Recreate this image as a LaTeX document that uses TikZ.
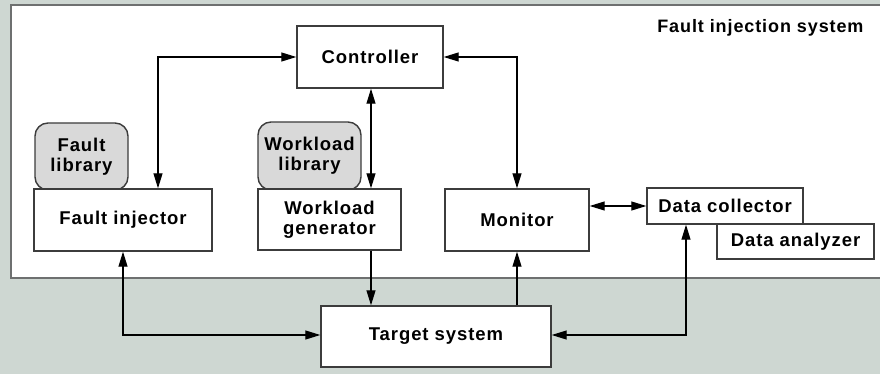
\documentclass[tikz,border=0pt]{standalone}
\usepackage{fontspec}
\setmainfont{Liberation Sans}[LetterSpace=5]
\usetikzlibrary{arrows.meta,calc}
\definecolor{bgc}{RGB}{206,215,210}
\definecolor{framec}{RGB}{110,112,112}
\definecolor{boxc}{RGB}{60,60,60}
\definecolor{libc}{RGB}{217,217,217}
\tikzset{
  tip/.style={-{Triangle[length=15pt,width=9pt]}},
  bitip/.style={{Triangle[length=15pt,width=9pt]}-{Triangle[length=15pt,width=9pt]}},
  conn/.style={line width=1.1pt, black},
  box/.style={draw=boxc, line width=1.4pt, fill=white, inner sep=0pt, align=center,
    font=\fontsize{18.5}{20}\selectfont\bfseries},
  libbox/.style={box, fill=libc, rounded corners=13pt},
}
\begin{document}
\begin{tikzpicture}[x=1pt,y=-1pt]
\useasboundingbox (0,0) rectangle (880,374);
\fill[bgc] (0,0) rectangle (880,374);
\filldraw[fill=white, draw=framec, line width=2pt] (11,5) rectangle (892,278);
\node[anchor=base east, font=\fontsize{18}{20}\selectfont\bfseries] (title) at (867,33) {Fault injection system};

\node[box, minimum width=146pt, minimum height=62pt] (ctrl) at (370,57) {Controller};
\node[libbox, minimum width=93pt, minimum height=67pt] (flib) at (81.5,156.5) {Fault\\library};
\node[libbox, minimum width=103pt, minimum height=68pt] (wlib) at (309.5,156) {Workload\\library};
\node[box, minimum width=178pt, minimum height=62pt] (finj) at (123,220) {Fault injector};
\node[box, minimum width=143pt, minimum height=61pt] (wgen) at (329.5,219.5) {Workload\\generator};
\node[box, minimum width=144pt, minimum height=62pt] (mon) at (517,220) {Monitor};
\node[box, minimum width=156pt, minimum height=36pt] (dcol) at (725,206) {Data collector};
\node[box, minimum width=157pt, minimum height=35pt] (dana) at (795.5,241.5) {Data analyzer};
\node[box, minimum width=230pt, minimum height=61pt] (tgt) at (436,336.5) {Target system};

\draw[conn, bitip] (ctrl.west) -| ([xshift=35pt]finj.north);
\draw[conn, bitip] (ctrl.east) -| (mon.north);
\draw[conn, bitip] ([xshift=1pt]ctrl.south) -- ([xshift=1pt]ctrl.south |- wgen.north);
\draw[conn, tip] ([xshift=1pt]ctrl.south |- wgen.south) -- ([xshift=1pt]ctrl.south |- tgt.north);
\draw[conn, tip] (tgt.north -| mon.south) -- (mon.south);
\draw[conn, bitip] (finj.south) |- ([yshift=1.5pt]tgt.west);
\draw[conn, bitip] (dcol.west -| mon.east) -- (dcol.west);
\draw[conn, bitip] ([xshift=-39pt]dcol.south) |- ([yshift=1.5pt]tgt.east);
\end{tikzpicture}
\end{document}
